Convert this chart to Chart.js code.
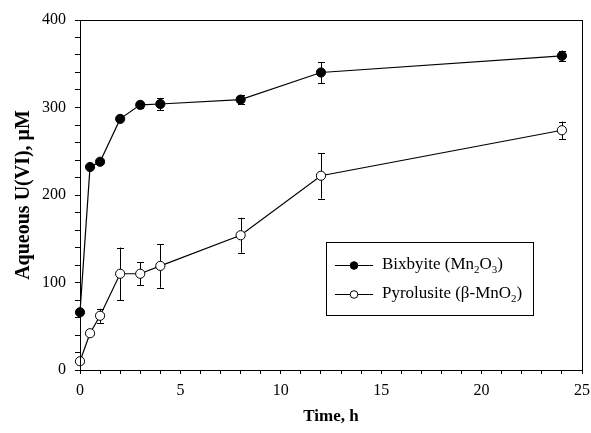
<!DOCTYPE html>
<html>
<head>
<meta charset="utf-8">
<script src="https://cdn.jsdelivr.net/npm/chart.js@4.4.1/dist/chart.umd.min.js"></script>
<style>
  html, body { margin: 0; padding: 0; background: #fff; }
</style>
</head>
<body>
<canvas id="chart" width="591" height="433"></canvas>
<script>
// data
const times = [0, 0.5, 1, 2, 3, 4, 8, 12, 24];
const bixbyite = [66, 232, 238, 287, 303, 304, 309, 340, 359];
const bixbyiteErr = [2, 2, 2, 2, 3, 7, 5, 12, 6];
const pyrolusite = [10, 42, 62, 110, 110, 119, 154, 222, 274];
const pyrolusiteErr = [2, 2, 8, 30, 13, 25, 20, 26, 10];

const xTicks = [0, 5, 10, 15, 20, 25];
const yTicks = [0, 100, 200, 300, 400];

// legend text, [text, isSubscript]
const bixLabel = [["Bixbyite (Mn", 0], ["2", 1], ["O", 0], ["3", 1], [")", 0]];
const pyroLabel = [["Pyrolusite (β-MnO", 0], ["2", 1], [")", 0]];

const SERIF = "'Liberation Serif', 'Times New Roman', serif";

function toPoints(xs, ys) {
  return xs.map((x, i) => ({ x: x, y: ys[i] }));
}

// =======================
// ERROR BARS
// =======================
const errorBars = {
  id: "errorBars",
  beforeDatasetsDraw(chart) {
    const ctx = chart.ctx;
    const yScale = chart.scales.y;
    const errs = [bixbyiteErr, pyrolusiteErr];
    ctx.save();
    ctx.strokeStyle = "#000";
    ctx.lineWidth = 1;
    chart.data.datasets.forEach((ds, di) => {
      const meta = chart.getDatasetMeta(di);
      meta.data.forEach((pt, i) => {
        const v = ds.data[i].y;
        const e = errs[di][i];
        const x = Math.round(pt.x) + 0.5;
        const y1 = yScale.getPixelForValue(v + e);
        const y2 = yScale.getPixelForValue(v - e);
        ctx.beginPath();
        ctx.moveTo(x, y1);
        ctx.lineTo(x, y2);
        ctx.moveTo(x - 3.5, Math.round(y1) + 0.5);
        ctx.lineTo(x + 3.5, Math.round(y1) + 0.5);
        ctx.moveTo(x - 3.5, Math.round(y2) + 0.5);
        ctx.lineTo(x + 3.5, Math.round(y2) + 0.5);
        ctx.stroke();
      });
    });
    ctx.restore();
  }
};

// =======================
// FRAME + LEGEND
// =======================
function drawParts(ctx, parts, x, y) {
  parts.forEach(([txt, sub]) => {
    ctx.font = sub ? "11px " + SERIF : "17px " + SERIF;
    ctx.fillText(txt, x, sub ? y + 5 : y);
    x += ctx.measureText(txt).width;
  });
}

const frameLegend = {
  id: "frameLegend",
  afterDraw(chart) {
    const ctx = chart.ctx;
    const a = chart.chartArea;
    ctx.save();
    ctx.strokeStyle = "#000";
    ctx.lineWidth = 1;
    ctx.strokeRect(Math.round(a.left) + 0.5, Math.round(a.top) + 0.5,
      Math.round(a.right - a.left), Math.round(a.bottom - a.top));

    // legend box
    ctx.strokeRect(326.5, 242.5, 207, 73);
    const rows = [
      { parts: bixLabel, fill: "#000", y: 265 },
      { parts: pyroLabel, fill: "#fff", y: 294 }
    ];
    rows.forEach(r => {
      ctx.beginPath();
      ctx.moveTo(335, r.y + 0.5);
      ctx.lineTo(373, r.y + 0.5);
      ctx.stroke();
      ctx.beginPath();
      ctx.arc(354, r.y + 0.5, 3.8, 0, Math.PI * 2);
      ctx.fillStyle = r.fill;
      ctx.fill();
      ctx.stroke();
      ctx.fillStyle = "#000";
      ctx.textBaseline = "middle";
      drawParts(ctx, r.parts, 382, r.y);
    });
    ctx.restore();
  }
};

new Chart(document.getElementById("chart"), {
  type: "scatter",
  data: {
    datasets: [
      {
        label: "Bixbyite",
        data: toPoints(times, bixbyite),
        showLine: true,
        borderColor: "#000",
        borderWidth: 1.2,
        pointRadius: 4.6,
        pointBackgroundColor: "#000",
        pointBorderColor: "#000",
        pointBorderWidth: 1,
        clip: false
      },
      {
        label: "Pyrolusite",
        data: toPoints(times, pyrolusite),
        showLine: true,
        borderColor: "#000",
        borderWidth: 1.2,
        pointRadius: 4.6,
        pointBackgroundColor: "#fff",
        pointBorderColor: "#000",
        pointBorderWidth: 1,
        clip: false
      }
    ]
  },
  options: {
    responsive: false,
    animation: false,
    layout: { padding: { top: 20, right: 9, left: 0, bottom: 0 } },
    plugins: {
      legend: { display: false },
      tooltip: { enabled: false }
    },
    scales: {
      x: {
        type: "linear",
        min: xTicks[0],
        max: xTicks[xTicks.length - 1],
        afterFit: s => {
          s.height = 63;
          s.paddingRight = 0;
          s.paddingLeft = 0;
        },
        ticks: {
          stepSize: 1,
          autoSkip: false,
          maxRotation: 0,
          padding: 7,
          color: "#000",
          font: { family: SERIF, size: 16 },
          callback: v => (xTicks.includes(v) ? v : "")
        },
        grid: { drawOnChartArea: false, tickLength: 4, color: "#000" },
        border: { color: "#000", width: 1 },
        title: {
          display: true,
          text: "Time, h",
          color: "#000",
          font: { family: SERIF, size: 17, weight: "bold" },
          padding: { top: 0, bottom: 6 }
        }
      },
      y: {
        min: yTicks[0],
        max: yTicks[yTicks.length - 1],
        afterFit: s => { s.width = 80; },
        ticks: {
          stepSize: 20,
          autoSkip: false,
          padding: 9,
          color: "#000",
          font: { family: SERIF, size: 16 },
          callback: v => (yTicks.includes(v) ? v : "")
        },
        grid: { drawOnChartArea: false, tickLength: 5, color: "#000" },
        border: { color: "#000", width: 1 },
        title: {
          display: true,
          text: "Aqueous U(VI), μM",
          color: "#000",
          font: { family: SERIF, size: 20, weight: "bold" },
          padding: { top: 12, bottom: 0 }
        }
      }
    }
  },
  plugins: [errorBars, frameLegend]
});
</script>
</body>
</html>
